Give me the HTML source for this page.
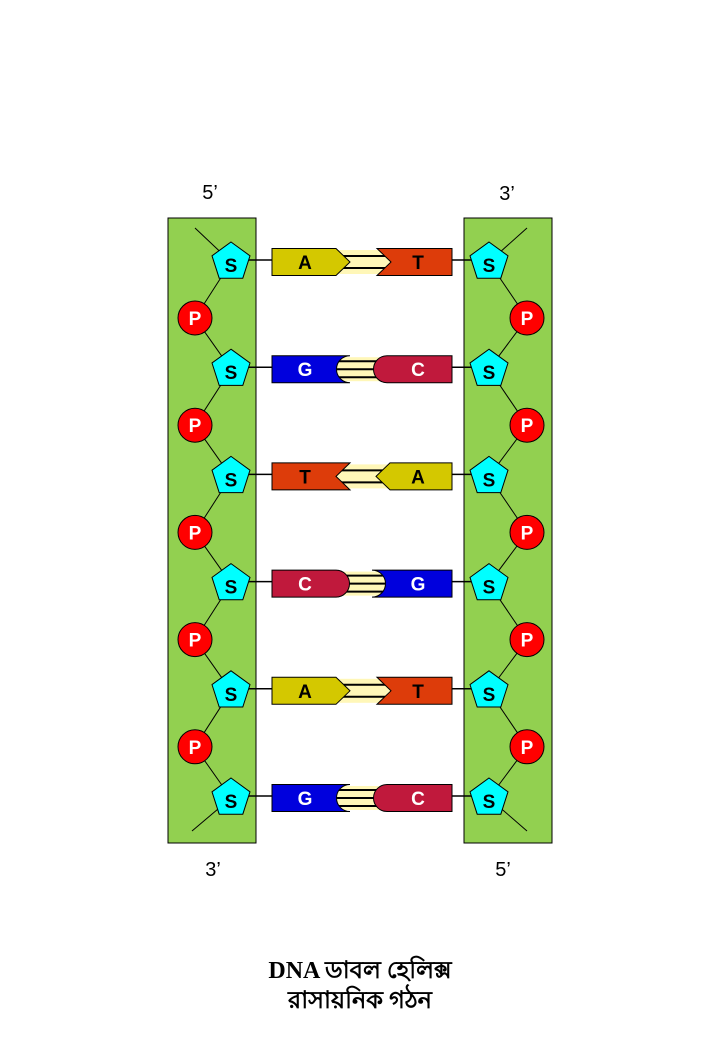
<!DOCTYPE html>
<html><head><meta charset="utf-8"><style>
body{margin:0;background:#fff;width:720px;height:1040px;overflow:hidden}
svg{display:block}
</style></head><body>
<svg id="dna" width="720" height="1040" viewBox="0 0 720 1040" xmlns="http://www.w3.org/2000/svg" font-family="Liberation Sans, sans-serif">
<rect x="168" y="218" width="88" height="625" fill="#92d050" stroke="#000" stroke-width="1"/>
<rect x="464" y="218" width="88" height="625" fill="#92d050" stroke="#000" stroke-width="1"/>
<text x="210" y="199" font-size="20" text-anchor="middle">5’</text>
<text x="507" y="200" font-size="20" text-anchor="middle">3’</text>
<text x="213" y="876" font-size="20" text-anchor="middle">3’</text>
<text x="503" y="876" font-size="20" text-anchor="middle">5’</text>
<g id="marks"></g>
<text x="360" y="978" font-size="24" font-weight="bold" text-anchor="middle" font-family="Liberation Serif, serif">DNA ডাবল হেলিক্স</text>
<text x="360" y="1008" font-size="24" font-weight="bold" text-anchor="middle" font-family="Liberation Serif, serif">রাসায়নিক গঠন</text>
</svg>
<script>
const leftBases = ['A','G','T','C','A','G'];
const rightBases = ['T','C','A','G','T','C'];
const rowCount = leftBases.length;

const NS='http://www.w3.org/2000/svg';
const g=document.getElementById('marks');
const colors={A:'#d4c800',T:'#dd3c0a',G:'#0000dd',C:'#c0193c'};
const txtCol={A:'#000',T:'#000',G:'#fff',C:'#fff'};
function rowY(i){return 262+i*107.2;}
function el(tag,attrs){const e=document.createElementNS(NS,tag);for(const k in attrs)e.setAttribute(k,attrs[k]);g.appendChild(e);return e;}
function pent(cx,cy,r){let p=[];for(let k=0;k<5;k++){const a=-Math.PI/2+k*2*Math.PI/5;p.push((cx+r*Math.cos(a)).toFixed(1)+','+(cy+r*Math.sin(a)).toFixed(1));}return p.join(' ');}
const h=13.5,d=14;
function edge(b,e,y,s){
 if(b==='A') return `L${e-s*d},${y-h} L${e},${y} L${e-s*d},${y+h}`;
 if(b==='T') return `L${e},${y-h} L${e-s*d},${y} L${e},${y+h}`;
 if(b==='C') return `L${e-s*d},${y-h} A${h},${h} 0 0 ${s>0?1:0} ${e-s*d},${y+h}`;
 return `L${e},${y-h} A${h},${h} 0 0 ${s>0?0:1} ${e},${y+h}`;
}
function base(b,side,y,i){
 let path;
 if(side==='left'){
  const e=350;
  path=`M272,${y-h} ${edge(b,e,y,1)} L272,${y+h} Z`;
 } else {
  const e={A:376,T:377,C:373,G:372}[b];
  const end=452;
  path=`M${end},${y-h} ${edge(b,e,y,-1)} L${end},${y+h} Z`;
 }
 const p=el('path',{d:path,fill:colors[b],stroke:'#000','stroke-width':1});
 
 
 const tx=side==='left'?305:418;
 const t=el('text',{x:tx,y:y+7,'font-size':19,'font-weight':'bold','text-anchor':'middle',fill:txtCol[b]});
 t.textContent=b;
 
 
}
// pass 1: lines
for(let i=0;i<rowCount;i++){
 const y=rowY(i);
 [[231,195],[489,527]].forEach(([sx,px])=>{
  const top=i===0?[px,228]:[px,y-51];
  const l1=el('line',{x1:top[0],y1:top[1],x2:sx,y2:y,stroke:'#000','stroke-width':1});
  
  
  const bot=i===rowCount-1?[(sx<360?192:527),831]:[px,y+56];
  const l2=el('line',{x1:sx,y1:y,x2:bot[0],y2:bot[1],stroke:'#000','stroke-width':1});
  
  
 });
 const c1=el('line',{x1:231,y1:y-2,x2:272,y2:y-2,stroke:'#000','stroke-width':1.5});
 
 
 const c2=el('line',{x1:452,y1:y-2,x2:489,y2:y-2,stroke:'#000','stroke-width':1.5});
 
 
}
// pass 2: shapes
for(let i=0;i<rowCount;i++){
 const y=rowY(i);
 const gl=el('rect',{x:334,y:y-12,width:58,height:24,fill:'#fff7b8'});
 
 
 const isGC=(leftBases[i]==='G'||leftBases[i]==='C');
 const offs=isGC?[-8,0,8]:[-6,6];
 offs.forEach(o=>{
  const hb=el('line',{x1:334,y1:y+o,x2:392,y2:y+o,stroke:'#000','stroke-width':2});
  
  
 });
 base(leftBases[i],'left',y,i);
 base(rightBases[i],'right',y,i);
 [[231,'left'],[489,'right']].forEach(([x,s])=>{
  const pg=el('polygon',{points:pent(x,y,20),fill:'#00ffff',stroke:'#000','stroke-width':1});
  
  
  const t=el('text',{x:x,y:y+10,'font-size':19,'font-weight':'bold','text-anchor':'middle',fill:'#000'});
  t.textContent='S';
  
  
 });
 if(i<rowCount-1){
  [[195,'left'],[527,'right']].forEach(([x,s])=>{
   const py=y+56;
   const c=el('circle',{cx:x,cy:py,r:17,fill:'#ff0000',stroke:'#000','stroke-width':1});
   
   
   const t=el('text',{x:x,y:py+7,'font-size':19,'font-weight':'bold','text-anchor':'middle',fill:'#fff'});
   t.textContent='P';
   
   
  });
 }
}
</script>
</body></html>
